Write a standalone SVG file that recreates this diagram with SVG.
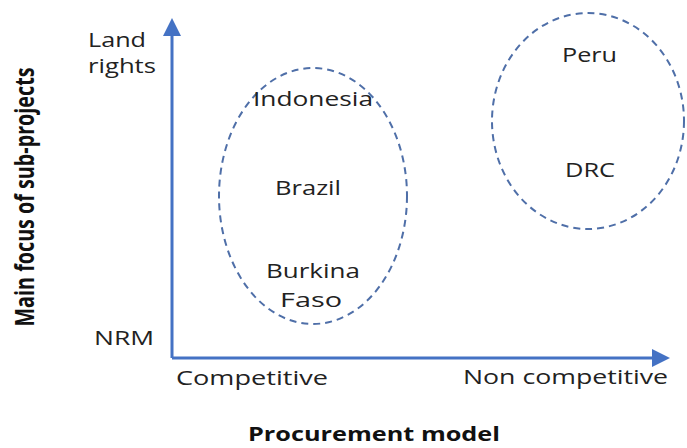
<svg xmlns="http://www.w3.org/2000/svg" width="687" height="448" viewBox="0 0 687 448">
<style>
.t{font-family:"Open Sans","Noto Sans",sans-serif;font-size:20px;fill:#222}
.b{font-family:"Open Sans","Noto Sans",sans-serif;font-size:19px;font-weight:bold;fill:#111}
.ax{stroke:#4472C4;stroke-width:3;fill:none}
.el{stroke:#4F6FA8;stroke-width:2;stroke-dasharray:7 5;fill:none}
</style>
<defs>
<marker id="ah" markerWidth="6" markerHeight="6" refX="0" refY="3" orient="auto" markerUnits="strokeWidth">
<path d="M0,0 L6,3 L0,6 Z" fill="#4472C4"/>
</marker>
</defs>
<g id="connectors">
<path class="ax" d="M172,358 L172,36" marker-end="url(#ah)"/>
<path class="ax" d="M172,358 L652,358" marker-end="url(#ah)"/>
</g>
<g id="group-competitive">
<ellipse class="el" cx="313" cy="196" rx="94" ry="128"/>
</g>
<g id="group-noncompetitive">
<ellipse class="el" cx="588" cy="121" rx="96" ry="108"/>
</g>
<g id="labels">
<text class="t" x="88" y="47" textLength="58" lengthAdjust="spacingAndGlyphs">Land</text>
<text class="t" x="88" y="73" textLength="68" lengthAdjust="spacingAndGlyphs">rights</text>
<text class="t" x="94" y="345" textLength="60" lengthAdjust="spacingAndGlyphs">NRM</text>
<text class="t" x="176" y="385" textLength="152" lengthAdjust="spacingAndGlyphs">Competitive</text>
<text class="t" x="463" y="384" textLength="205" lengthAdjust="spacingAndGlyphs">Non competitive</text>
<text class="b" x="248" y="441" font-size="18" textLength="252" lengthAdjust="spacingAndGlyphs">Procurement model</text>
<text class="b" transform="translate(34,197) scale(1.4,1) rotate(-90)" text-anchor="middle" textLength="259" lengthAdjust="spacingAndGlyphs">Main focus of sub-projects</text>
</g>
<g id="node-indonesia"><text class="t" x="253" y="106" textLength="120" lengthAdjust="spacingAndGlyphs">Indonesia</text></g>
<g id="node-brazil"><text class="t" x="275" y="195" textLength="66" lengthAdjust="spacingAndGlyphs">Brazil</text></g>
<g id="node-burkina"><text class="t" x="266" y="278" textLength="94" lengthAdjust="spacingAndGlyphs">Burkina</text><text class="t" x="280" y="307" textLength="62" lengthAdjust="spacingAndGlyphs">Faso</text></g>
<g id="node-peru"><text class="t" x="562" y="62" textLength="55" lengthAdjust="spacingAndGlyphs">Peru</text></g>
<g id="node-drc"><text class="t" x="565" y="177" textLength="50" lengthAdjust="spacingAndGlyphs">DRC</text></g>
</svg>
